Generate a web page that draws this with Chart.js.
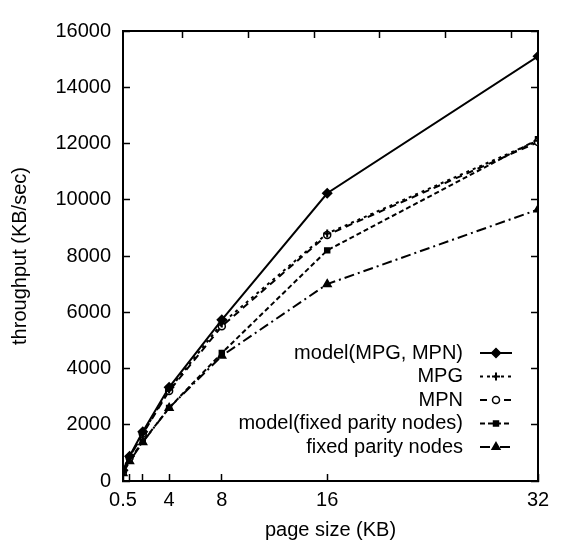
<!DOCTYPE html>
<html lang="en">
<head>
    <meta charset="UTF-8" />
    <title>Throughput vs page size</title>
    <script src="https://cdn.jsdelivr.net/npm/chart.js@4/dist/chart.umd.min.js"></script>
    <style>
        html, body { margin: 0; padding: 0; background: #fff; }
        #wrap { width: 564px; height: 546px; }
    </style>
</head>
<body>
    <div id="wrap"><canvas id="chart" width="564" height="546"></canvas></div>

    <script>
        // page sizes (KB)
        const pageSizes = [0.5, 1, 2, 4, 8, 16, 32];

        // throughput (KB/sec)
        const modelMpgMpn = [380, 880, 1750, 3330, 5730, 10230, 15100];
        const mpg = [350, 850, 1700, 3250, 5600, 8800, 12100];
        const mpn = [340, 830, 1680, 3200, 5500, 8750, 12050];
        const modelFixed = [300, 750, 1400, 2600, 4550, 8200, 12150];
        const fixedParity = [280, 700, 1380, 2600, 4450, 7000, 9650];

        const seriesNames = ["model(MPG, MPN)", "MPG", "MPN", "model(fixed parity nodes)", "fixed parity nodes"];

        const xTickLabels = [0.5, 4, 8, 16, 32];
        const xTickMarks = [0.5, 1, 2, 4, 8, 16, 32];
        const x2TickMarks = [5, 10, 15, 20, 25, 30];

        const FONT = "'Liberation Sans', Arial, sans-serif";

        function pts(ys) {
            return pageSizes.map((x, i) => ({ x: x, y: ys[i] }));
        }

        function makeSet(label, ys, dash, style, radius, fill) {
            return {
                label: label,
                data: pts(ys),
                borderColor: '#000',
                borderWidth: 2,
                borderDash: dash,
                pointStyle: style,
                pointRadius: radius,
                pointBorderWidth: style === 'cross' ? 2 : 1.5,
                pointBackgroundColor: fill,
                pointBorderColor: '#000',
                tension: 0
            };
        }

        const datasets = [
            makeSet(seriesNames[0], modelMpgMpn, [], 'rectRot', 4.5, '#000'),
            makeSet(seriesNames[1], mpg, [3, 4], 'cross', 4, '#000'),
            makeSet(seriesNames[2], mpn, [7, 5], 'circle', 3.5, '#fff'),
            makeSet(seriesNames[3], modelFixed, [5, 3], 'rect', 3.5, '#000'),
            makeSet(seriesNames[4], fixedParity, [10, 4, 2, 4], 'triangle', 4.5, '#000')
        ];

        // legend in the lower right of the plot: text right-aligned, sample to the right
        const sideLegend = {
            id: 'sideLegend',
            afterDatasetsDraw(chart) {
                const ctx = chart.ctx;
                const area = chart.chartArea;
                const textRight = area.right - 75;
                const x1 = area.right - 58, x2 = area.right - 26;
                ctx.save();
                ctx.font = "20px " + FONT;
                ctx.textAlign = 'right';
                ctx.textBaseline = 'middle';
                chart.data.datasets.forEach((ds, i) => {
                    const y = area.top + 322 + i * 23.5;
                    ctx.fillStyle = '#000';
                    ctx.fillText(ds.label, textRight, y);
                    ctx.strokeStyle = '#000';
                    ctx.lineWidth = ds.borderWidth;
                    ctx.setLineDash(ds.borderDash);
                    ctx.beginPath();
                    ctx.moveTo(x1, y);
                    ctx.lineTo(x2, y);
                    ctx.stroke();
                    ctx.setLineDash([]);
                    ctx.fillStyle = ds.pointBackgroundColor;
                    ctx.lineWidth = ds.pointBorderWidth;
                    Chart.helpers.drawPoint(ctx, {
                        pointStyle: ds.pointStyle,
                        radius: ds.pointRadius,
                        rotation: 0,
                        borderWidth: ds.pointBorderWidth
                    }, (x1 + x2) / 2, y);
                });
                ctx.restore();
            }
        };

        const tickFont = { family: FONT, size: 20 };

        new Chart(document.getElementById('chart'), {
            type: 'line',
            data: { datasets: datasets },
            plugins: [sideLegend],
            options: {
                responsive: false,
                animation: false,
                layout: { padding: 0 },
                plugins: {
                    legend: { display: false },
                    tooltip: { enabled: false }
                },
                scales: {
                    x: {
                        type: 'linear',
                        position: 'bottom',
                        min: 0.5,
                        max: 32,
                        afterBuildTicks: (s) => { s.ticks = xTickMarks.map(v => ({ value: v })); },
                        afterFit: (s) => { s.height = 65; },
                        ticks: {
                            color: '#000',
                            font: tickFont,
                            padding: 14,
                            maxRotation: 0,
                            autoSkip: false,
                            callback: (v) => xTickLabels.includes(v) ? String(v) : ''
                        },
                        grid: { drawOnChartArea: false, tickLength: -7, color: '#000', tickWidth: 1.5 },
                        border: { color: '#000', width: 2 },
                        title: { display: true, text: 'page size (KB)', color: '#000', font: tickFont, padding: { top: 2 } }
                    },
                    x2: {
                        type: 'linear',
                        position: 'top',
                        min: 0.5,
                        max: 32,
                        afterBuildTicks: (s) => { s.ticks = x2TickMarks.map(v => ({ value: v })); },
                        afterFit: (s) => { s.height = 15; },
                        ticks: { display: false },
                        grid: { drawOnChartArea: false, tickLength: -7, color: '#000', tickWidth: 1.5 },
                        border: { color: '#000', width: 2 }
                    },
                    y: {
                        type: 'linear',
                        position: 'left',
                        min: 0,
                        max: 16000,
                        afterFit: (s) => { s.width = 123; },
                        ticks: {
                            stepSize: 2000,
                            color: '#000',
                            font: tickFont,
                            padding: 19,
                            callback: (v) => String(v)
                        },
                        grid: { drawOnChartArea: false, tickLength: -7, color: '#000', tickWidth: 1.5 },
                        border: { color: '#000', width: 2 },
                        title: { display: true, text: 'throughput (KB/sec)', color: '#000', font: tickFont, padding: { top: 8, bottom: 0 } }
                    },
                    y2: {
                        type: 'linear',
                        position: 'right',
                        min: 0,
                        max: 16000,
                        afterFit: (s) => { s.width = 26; },
                        ticks: { stepSize: 2000, display: false },
                        grid: { drawOnChartArea: false, tickLength: -7, color: '#000', tickWidth: 1.5 },
                        border: { color: '#000', width: 2 }
                    }
                }
            }
        });
    </script>
</body>
</html>
